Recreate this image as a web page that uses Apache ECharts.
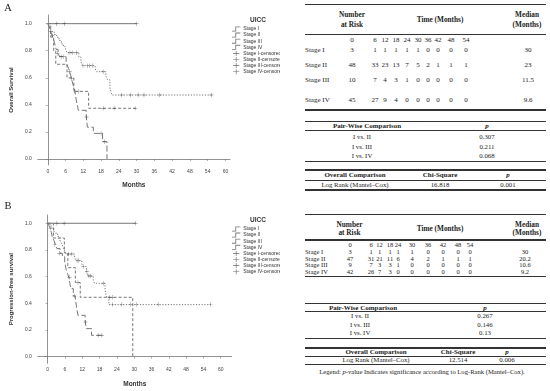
<!DOCTYPE html>
<html><head><meta charset="utf-8">
<script src="https://cdn.jsdelivr.net/npm/echarts@6/dist/echarts.min.js"></script>
<style>
html,body{margin:0;padding:0;background:#fff;width:550px;height:391px;overflow:hidden;position:relative;}
#chart{position:absolute;left:0;top:0;width:280px;height:391px;}
.t{position:absolute;white-space:nowrap;font-family:"Liberation Serif",serif;color:#222;transform:translate(-50%,-50%);line-height:1;}
.l{transform:translate(0,-50%);}
.b{font-weight:bold;}
.r{position:absolute;background:#333;}
</style></head>
<body>
<div id="chart"></div>
<div id="tables"></div>
<script>
// ---------- Kaplan–Meier data (months, survival) ----------
const xTicks = [0, 6, 12, 18, 24, 30, 36, 42, 48, 54, 60];
const yTicks = [0, 0.2, 0.4, 0.6, 0.8, 1.0];
const stageNames = ['Stage I', 'Stage II', 'Stage III', 'Stage IV'];
const censorNames = ['Stage I-censored', 'Stage II-censored', 'Stage III-censored', 'Stage IV-censored'];

// Panel A: Overall Survival
const osStageI = [[0, 1], [30, 1]];
const osStageII = [[0,1],[0.5,0.98],[1,0.96],[1.5,0.94],[2.2,0.92],[3,0.9],[3.8,0.875],[4.6,0.85],[5.3,0.83],[6,0.81],[6.5,0.785],[10.5,0.755],[11.2,0.72],[11.8,0.69],[16,0.667],[16.5,0.645],[19.6,0.615],[20.2,0.585],[21,0.53],[21.6,0.473],[55.8,0.473]];
const osStageIII = [[0,1],[1,0.9],[2,0.8],[2.7,0.7],[6.5,0.6],[8.8,0.5],[13.8,0.375],[29.7,0.375]];
const osStageIV = [[0,1],[0.5,0.98],[1,0.94],[1.5,0.91],[2,0.88],[2.5,0.84],[2.8,0.81],[3.5,0.78],[4,0.756],[6.2,0.72],[6.6,0.69],[7,0.67],[7.4,0.645],[7.7,0.62],[8,0.595],[8.3,0.57],[8.7,0.535],[9.1,0.5],[9.4,0.47],[9.6,0.436],[10,0.4],[10.3,0.36],[13,0.31],[13.2,0.27],[13.4,0.235],[15.4,0.19],[18.5,0.128],[20,0]];
const osCensI = [[3,1],[5.6,1],[30,1]];
const osCensII = [[7.5,0.785],[8.3,0.785],[9.8,0.785],[11.9,0.69],[13.5,0.69],[14.2,0.69],[15,0.69],[18.7,0.645],[25,0.473],[27.9,0.473],[30.5,0.473],[32.5,0.473],[37.8,0.473],[55.3,0.473]];
const osCensIII = [[10.5,0.5],[18.7,0.375],[22.4,0.375],[29.5,0.375]];
const osCensIV = [[1,0.94],[1.6,0.91],[3.3,0.78],[4.5,0.756],[5.2,0.756],[7.4,0.645],[8.1,0.595],[9.2,0.5],[13.1,0.31],[18,0.19],[19.2,0.128]];

// Panel B: Progression-free survival
const pfsStageI = [[0, 1], [30.5, 1]];
const pfsStageII = [[0,1],[0.8,0.98],[1.5,0.96],[2.2,0.94],[2.7,0.925],[3.5,0.9],[4.2,0.875],[4.8,0.85],[5.4,0.82],[5.9,0.79],[6.5,0.77],[9.3,0.745],[9.8,0.72],[11.8,0.7],[12.2,0.675],[13.5,0.64],[13.9,0.605],[15.8,0.578],[16.2,0.55],[19.9,0.5],[20.3,0.45],[21.2,0.39],[56.5,0.39]];
const pfsStageIII = [[0,1],[2,0.889],[5.8,0.778],[7,0.667],[9.6,0.556],[11.3,0.445],[29.5,0]];
const pfsStageIV = [[0,1],[0.5,0.98],[0.9,0.96],[1.3,0.93],[1.6,0.9],[2.2,0.87],[2.7,0.84],[3.2,0.81],[4.3,0.775],[5.1,0.75],[5.9,0.71],[6.4,0.655],[6.9,0.625],[7.3,0.595],[7.7,0.55],[8,0.51],[8.9,0.455],[9.6,0.44],[10,0.37],[10.5,0.31],[13,0.26],[13.4,0.21],[15.2,0.16],[18.8,0.16]];
const pfsCensI = [[3.2,1],[5.7,1],[30.5,1]];
const pfsCensII = [[7.3,0.77],[8.4,0.77],[10.2,0.72],[10.8,0.72],[12.3,0.675],[13.6,0.64],[14.3,0.605],[14.9,0.605],[19.3,0.55],[22.5,0.39],[25.7,0.39],[28.7,0.39],[30.7,0.39],[38.3,0.39],[56.5,0.39]];
const pfsCensIII = [[10.5,0.556],[21.4,0.445],[22.5,0.445]];
const pfsCensIV = [[0.9,0.96],[2.5,0.84],[4,0.775],[7.5,0.595],[9.2,0.455],[13.1,0.26],[17.5,0.16],[18.8,0.16]];

// ---------- Table data ----------
const timePoints = ['0','6','12','18','24','30','36','42','48','54'];
const riskA = [[3,1,1,1,1,1,0,0,0,0],[48,33,23,13,7,5,2,1,1,1],[10,7,4,3,1,0,0,0,0,0],[45,27,9,4,0,0,0,0,0,0]];
const medianA = ['30','23','11.5','9.6'];
const riskB = [[3,1,1,1,1,1,0,0,0,0],[47,31,21,11,6,4,2,1,1,1],[9,7,3,3,1,0,0,0,0,0],[42,26,7,3,0,0,0,0,0,0]];
const medianB = ['30','20.2','10.6','9.2'];
const pairLabels = ['I vs. II','I vs. III','I vs. IV'];
const pairA = ['0.307','0.211','0.068'];
const pairB = ['0.267','0.146','0.13'];
const overallLabel = 'Log Rank (Mantel\u2013Cox)';
const overallA = ['16.818','0.001'];
const overallB = ['12.514','0.006'];

// ---------- Chart ----------
const LINE = '#777', MARK = '#444';
const dashes = ['solid', [1.2, 1.6], [3, 2], [6, 2.5]];
const plusPath = 'path://M4.5,0h1v10h-1z M0,4.5h10v1h-10z';
const stepIcon = 'path://M0,6h4v-5h6v1h-5v5h-5z';
const censIcon = 'path://M0,4.5h10v1h-10z M4.5,1h1v8h-1z';

function panelSeries(idx, lines, cens) {
  const s = [];
  lines.forEach((d, i) => s.push({
    name: stageNames[i], type: 'line', step: 'end', data: d, xAxisIndex: idx, yAxisIndex: idx,
    symbol: 'none', color: LINE, lineStyle: { color: LINE, width: 1, type: dashes[i] }, z: 2
  }));
  cens.forEach((d, i) => s.push({
    name: censorNames[i], type: 'scatter', data: d, xAxisIndex: idx, yAxisIndex: idx,
    symbol: plusPath, symbolSize: [4, 4.5], color: MARK, itemStyle: { color: MARK }, z: 3
  }));
  return s;
}
function xAxis(idx, min, max) {
  return { gridIndex: idx, type: 'value', min, max,
    axisLine: { show: true, lineStyle: { color: '#777', width: 0.8 } },
    axisTick: { show: true, customValues: xTicks, length: 2, lineStyle: { color: '#777', width: 0.6 } },
    axisLabel: { customValues: xTicks, fontSize: 5, color: '#444', margin: 4, fontFamily: 'Liberation Sans' },
    splitLine: { show: false },
    name: 'Months', nameLocation: 'middle', nameGap: 17,
    nameTextStyle: { fontSize: 6.5, fontWeight: 'bold', color: '#333', fontFamily: 'Liberation Sans' } };
}
function yAxis(idx, min, max, name) {
  return { gridIndex: idx, type: 'value', min, max,
    axisLine: { show: true, lineStyle: { color: '#777', width: 0.8 } },
    axisTick: { show: true, customValues: yTicks, length: 2, lineStyle: { color: '#777', width: 0.6 } },
    axisLabel: { customValues: yTicks, fontSize: 5, color: '#444', margin: 6, fontFamily: 'Liberation Sans', formatter: v => v.toFixed(1) },
    splitLine: { show: false },
    name, nameLocation: 'middle', nameGap: 15,
    nameTextStyle: { fontSize: 6, fontWeight: 'bold', color: '#333', fontFamily: 'Liberation Sans' } };
}
function legend(top) {
  const data = stageNames.map(n => ({ name: n, icon: stepIcon })).concat(censorNames.map(n => ({ name: n, icon: censIcon })));
  return { data, orient: 'vertical', left: 232, top, itemWidth: 10, itemHeight: 5, itemGap: 1.1, selectedMode: false,
    padding: 0,
    textStyle: { fontSize: 5, lineHeight: 5, color: '#333', fontFamily: 'Liberation Sans', padding: [0, 0, 0, -3] } };
}

const chart = echarts.init(document.getElementById('chart'), null, { renderer: 'canvas' });
chart.setOption({
  animation: false,
  title: [
    { text: 'UICC', left: 250, top: 17, padding: 0, textStyle: { fontSize: 6.5, fontWeight: 'bold', color: '#333', fontFamily: 'Liberation Sans' } },
    { text: 'UICC', left: 250, top: 217, padding: 0, textStyle: { fontSize: 6.5, fontWeight: 'bold', color: '#333', fontFamily: 'Liberation Sans' } }
  ],
  legend: [legend(26.5), legend(226.5)],
  grid: [
    { left: 23, top: 15, width: 207, height: 150 },
    { left: 22.7, top: 215, width: 209, height: 148.3 }
  ],
  xAxis: [xAxis(0, -3.35, 61.55), xAxis(1, -3.4, 63.8)],
  yAxis: [yAxis(0, -0.044, 1.064, 'Overall Survival'), yAxis(1, -0.05, 1.062, 'Progression-free survival')],
  series: panelSeries(0, [osStageI, osStageII, osStageIII, osStageIV], [osCensI, osCensII, osCensIII, osCensIV])
    .concat(panelSeries(1, [pfsStageI, pfsStageII, pfsStageIII, pfsStageIV], [pfsCensI, pfsCensII, pfsCensIII, pfsCensIV]))
});

// ---------- Tables (HTML text) ----------
const host = document.getElementById('tables');
function txt(x, y, s, size, cls) {
  const d = document.createElement('div');
  d.className = 't ' + (cls || '');
  d.style.left = x + 'px'; d.style.top = y + 'px'; d.style.fontSize = size + 'px';
  d.innerHTML = s; host.appendChild(d);
}
function rule(y, w) {
  const d = document.createElement('div'); d.className = 'r';
  d.style.left = '305px'; d.style.width = '241px'; d.style.top = (y - w / 2) + 'px'; d.style.height = w + 'px';
  host.appendChild(d);
}
function riskTable(o) {
  rule(o.top, 1.5);
  txt(o.numX, o.h1, 'Number', 7.3, 'b'); txt(o.numX, o.h2, 'at Risk', 7.3, 'b');
  txt(440, (o.h1 + o.h2) / 2, 'Time (Months)', 7.3, 'b');
  txt(527, o.h1, 'Median', 7.3, 'b'); txt(527, o.h2, '(Months)', 7.3, 'b');
  rule(o.mid, 1.2);
  timePoints.forEach((t, j) => txt(o.cols[j], o.rowY[0], t, o.fs));
  stageNames.forEach((n, i) => {
    txt(305, o.rowY[i + 1], n, o.fs, 'l');
    o.risk[i].forEach((v, j) => txt(o.cols[j], o.rowY[i + 1], v, o.fs));
    txt(o.medX, o.rowY[i + 1], o.median[i], o.fs);
  });
  rule(o.bottom, 1.5);
}
function pairTable(o) {
  rule(o.top, 1.5);
  txt(o.hx, o.hy, 'Pair-Wise Comparison', 7, 'b');
  txt(o.px, o.hy, '<i>p</i>', 7, 'b');
  rule(o.hr, 0.8);
  pairLabels.forEach((n, i) => { txt(o.lx, o.ys[i], n, 6.8); txt(o.px, o.ys[i], o.vals[i], 6.8); });
  rule(o.bottom, 1.6);
}
function overallTable(o) {
  rule(o.top, 1.4);
  txt(o.hx, o.hy, 'Overall Comparison', 7, 'b');
  txt(o.cx, o.hy, 'Chi-Square', 7, 'b');
  txt(o.px, o.hy, '<i>p</i>', 7, 'b');
  rule(o.hr, 0.8);
  txt(o.hx, o.ry, overallLabel, 6.8); txt(o.cx, o.ry, o.vals[0], 6.8); txt(o.px, o.ry, o.vals[1], 6.8);
  rule(o.bottom, 1.4);
}
riskTable({ top: 4.5, h1: 15, h2: 25, numX: 352, mid: 34.5, fs: 7,
  cols: [352, 375, 385, 396, 407, 418, 428, 438, 451, 466], medX: 528,
  rowY: [40, 50, 65, 80, 99.5], risk: riskA, median: medianA, bottom: 110 });
pairTable({ top: 121.5, hx: 367, hy: 126.3, px: 487, hr: 130.7, lx: 362, ys: [136.6, 146.5, 156], vals: pairA, bottom: 161.7 });
overallTable({ top: 170, hx: 355, hy: 175, cx: 440, px: 508, hr: 180, ry: 185, vals: overallA, bottom: 190 });

riskTable({ top: 214.5, h1: 225, h2: 233, numX: 349.5, mid: 240, fs: 6.5,
  cols: [350, 371, 379.5, 390, 398, 412, 428, 443, 458, 470], medX: 525,
  rowY: [245.3, 251.8, 258.8, 265.2, 271.8], risk: riskB, median: medianB, bottom: 276.5 });
pairTable({ top: 303.5, hx: 363, hy: 307.5, px: 485, hr: 311.2, lx: 360, ys: [316.2, 324.5, 332.8], vals: pairB, bottom: 338.5 });
overallTable({ top: 348, hx: 376, hy: 352, cx: 458, px: 507, hr: 356, ry: 360.2, vals: overallB, bottom: 364.2 });
txt(422, 372, 'Legend: <i>p</i>-value Indicates significance according to Log-Rank (Mantel\u2013Cox).', 6.6);

// Panel letters
txt(8, 7.5, 'A', 10.5);
txt(8, 206, 'B', 10.5);
</script>
</body></html>
